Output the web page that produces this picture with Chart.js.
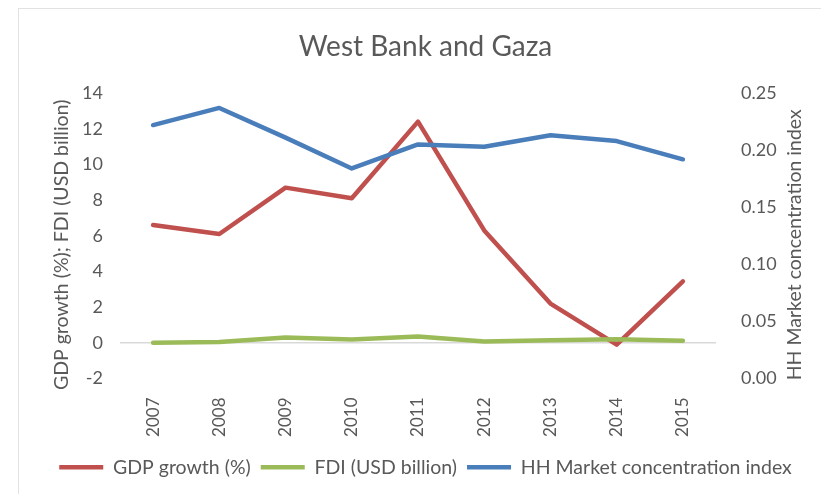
<!DOCTYPE html>
<html>
<head>
<meta charset="utf-8">
<script src="https://cdn.jsdelivr.net/npm/chart.js@4"></script>
<style>
  body { margin: 0; background: #fff; }
  .wrap { position: relative; width: 821px; height: 494px; overflow: hidden; }
  .frame { position: absolute; left: 18px; top: 8px; width: 820px; height: 500px; border: 1.5px solid #e2e2e2; }
  canvas { position: absolute; left: 0; top: 0; }
</style>
</head>
<body>
<div class="wrap">
  <div class="frame"></div>
  <canvas id="chart" width="821" height="494"></canvas>
</div>
<script>
const years = ["2007", "2008", "2009", "2010", "2011", "2012", "2013", "2014", "2015"];
const gdpGrowth = [6.6, 6.1, 8.7, 8.1, 12.4, 6.3, 2.2, -0.1, 3.45];
const fdi = [0.0, 0.05, 0.3, 0.18, 0.35, 0.08, 0.15, 0.2, 0.12];
const hhIndex = [0.222, 0.237, 0.211, 0.184, 0.205, 0.203, 0.213, 0.208, 0.192];

const textColor = "#595959";
const fontFamily = "Lato, 'Noto Sans', sans-serif";

// plot box
const plotLeft = 120;
const plotRight = 716;
const plotBottom = 379;
const legendTop = 448;

const axisTitles = {
  id: "axisTitles",
  afterDraw(chart) {
    const { ctx, chartArea } = chart;
    const midY = (chartArea.top + chartArea.bottom) / 2 + 9;
    ctx.save();
    ctx.fillStyle = textColor;
    ctx.font = "19.5px " + fontFamily;
    ctx.textAlign = "center";
    ctx.textBaseline = "middle";
    [[62, "GDP growth (%); FDI (USD billion)"], [795, "HH Market concentration index"]].forEach(([x, label]) => {
      ctx.save();
      ctx.translate(x, midY);
      ctx.rotate(-Math.PI / 2);
      ctx.fillText(label, 0, 0);
      ctx.restore();
    });
    ctx.restore();
  }
};

function lineSet(label, data, color, axis, order) {
  return {
    label,
    data,
    borderColor: color,
    backgroundColor: color,
    borderWidth: 4.5,
    borderCapStyle: "round",
    borderJoinStyle: "round",
    pointRadius: 0,
    tension: 0,
    yAxisID: axis,
    order
  };
}

new Chart(document.getElementById("chart"), {
  type: "line",
  data: {
    labels: years,
    datasets: [
      lineSet("GDP growth (%)", gdpGrowth, "#c0504d", "y", 3),
      lineSet("FDI (USD billion)", fdi, "#9bbb59", "y", 2),
      lineSet("HH Market concentration index", hhIndex, "#4a7ebb", "y1", 1)
    ]
  },
  options: {
    responsive: false,
    animation: false,
    layout: { padding: { left: 30, right: 0, top: 0, bottom: 7 } },
    plugins: {
      title: {
        display: true,
        text: "West Bank and Gaza",
        color: textColor,
        font: { family: fontFamily, size: 28, weight: "normal" },
        padding: { top: 30, bottom: 29.5 }
      },
      legend: {
        position: "bottom",
        labels: {
          color: textColor,
          font: { family: fontFamily, size: 19.5 },
          usePointStyle: true,
          pointStyleWidth: 44,
          pointStyle: "line",
          padding: 10,
          sort: (a, b) => a.datasetIndex - b.datasetIndex
        }
      },
      tooltip: { enabled: false }
    },
    scales: {
      x: {
        offset: true,
        grid: { display: false },
        border: { display: false },
        ticks: {
          color: textColor,
          font: { family: fontFamily, size: 17 },
          minRotation: 90,
          maxRotation: 90,
          padding: 11
        },
        afterFit: (scale) => { scale.height = legendTop - plotBottom; }
      },
      y: {
        position: "left",
        min: -2,
        max: 14,
        ticks: {
          stepSize: 2,
          color: textColor,
          font: { family: fontFamily, size: 18 },
          padding: 17
        },
        grid: {
          drawTicks: false,
          lineWidth: 1.5,
          color: (ctx) => (ctx.tick && ctx.tick.value === 0 ? "#d9d9d9" : "transparent")
        },
        border: { display: false },
        afterFit: (scale) => { scale.width = plotLeft - 30; }
      },
      y1: {
        position: "right",
        min: 0,
        max: 0.25,
        ticks: {
          stepSize: 0.05,
          color: textColor,
          font: { family: fontFamily, size: 18 },
          padding: 17,
          callback: (value) => value.toFixed(2)
        },
        grid: { display: false, drawOnChartArea: false },
        border: { display: false },
        afterFit: (scale) => { scale.width = 821 - plotRight; }
      }
    }
  },
  plugins: [axisTitles]
});
</script>
</body>
</html>
